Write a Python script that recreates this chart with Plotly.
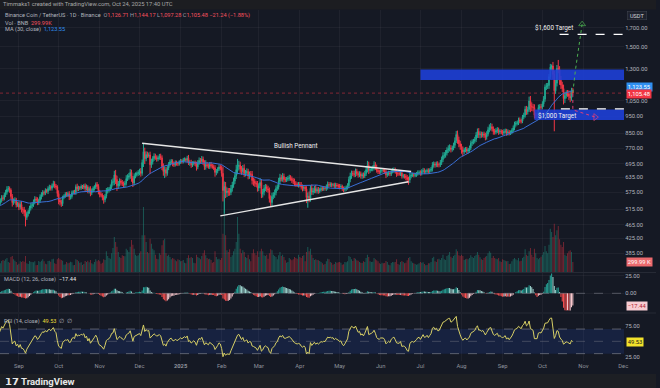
import numpy as np
import pandas as pd
import plotly.graph_objects as go

# ---------------- data ----------------
start_date = "2024-08-10"
first_open = 530

close = [
    # Aug 2024 (10-31)
    525, 510, 524, 530, 520, 523, 530, 538, 545, 555, 553, 566, 576, 587, 590, 584, 560, 538, 545, 547, 530, 535,
    # Sep 2024
    522, 531, 514, 513, 504, 488, 500, 507, 519, 527, 531, 541, 551, 549, 539, 545, 559, 566, 575, 573,
    583, 579, 590, 595, 591, 601, 609, 600, 596, 571,
    # Oct 2024
    546, 540, 534, 557, 561, 568, 567, 570, 559, 560, 574, 578, 575, 597, 589, 593, 592, 598, 596, 601,
    590, 596, 581, 590, 573, 582, 591, 596, 606, 598, 577,
    # Nov 2024
    567, 565, 556, 548, 561, 580, 585, 588, 597, 614, 617, 645, 626, 601, 608, 620, 614, 609, 605, 611,
    630, 636, 641, 656, 631, 612, 640, 646, 651, 656,
    # Dec 2024
    660, 652, 700, 752, 718, 738, 732, 736, 690, 703, 718, 730, 724, 716, 722, 729, 722, 682, 660, 668,
    652, 675, 690, 703, 706, 692, 690, 700, 695, 694, 702,
    # Jan 2025
    708, 704, 712, 715, 711, 720, 697, 701, 690, 696, 700, 694, 680, 699, 710, 706, 716, 701, 682, 691,
    686, 681, 691, 685, 681, 676, 656, 661, 670, 680, 675,
    # Feb 2025
    652, 582, 598, 574, 580, 576, 575, 590, 604, 620, 642, 668, 682, 688, 670, 660, 674, 651, 655, 660,
    641, 650, 648, 622, 619, 611, 608, 592,
    # Mar 2025
    601, 614, 570, 576, 590, 596, 589, 584, 552, 538, 560, 566, 574, 590, 596, 619, 634, 628, 639, 626,
    624, 628, 631, 634, 630, 622, 619, 609, 606, 604, 606,
    # Apr 2025
    604, 596, 591, 595, 589, 556, 561, 553, 591, 576, 581, 590, 580, 586, 580, 585, 590, 588, 591, 590,
    596, 606, 604, 606, 604, 605, 600, 604, 601, 600,
    # May 2025
    596, 598, 590, 586, 590, 594, 601, 626, 641, 652, 650, 648, 660, 651, 646, 650, 641, 646, 641, 651,
    668, 688, 664, 670, 671, 676, 688, 679, 665, 660, 659,
    # Jun 2025
    664, 665, 664, 659, 646, 650, 654, 650, 660, 664, 667, 660, 651, 650, 650, 654, 640, 641, 640, 635,
    626, 624, 640, 645, 646, 644, 646, 650, 655, 656,
    # Jul 2025
    652, 660, 664, 659, 660, 664, 660, 665, 670, 688, 693, 689, 694, 690, 690, 700, 714, 733, 736, 745,
    760, 768, 771, 764, 770, 784, 808, 842, 812, 792, 778,
    # Aug 2025
    762, 751, 760, 764, 755, 761, 771, 795, 800, 806, 815, 839, 858, 841, 844, 838, 845, 838, 828, 844,
    868, 880, 886, 874, 859, 855, 864, 868, 856, 860, 856,
    # Sep 2025
    851, 858, 862, 850, 856, 849, 855, 865, 879, 900, 906, 910, 926, 921, 919, 944, 956, 994, 978, 993,
    1050, 1015, 1010, 1005, 955, 955, 955, 1005, 1010, 1008,
    # Oct 2025 (1-24)
    1030, 1062, 1150, 1156, 1162, 1232, 1312, 1322, 1250, 1122, 1180, 1300, 1290, 1202, 1166, 1139, 1066,
    1087, 1106, 1101, 1082, 1071, 1126.71, 1105.48,
]

wick_high = [
    8, 10, 7, 9, 8, 6, 7, 9, 8, 10, 9, 8, 9, 12, 10, 8, 7, 9, 8, 10, 8, 6,
    6, 10, 12, 8, 10, 9, 7, 6, 8, 9, 7, 8, 10, 8, 8, 7, 9, 10, 9, 7, 8, 6, 9, 10, 8, 9, 12, 10, 8, 7,
    12, 9, 8, 6, 7, 8, 9, 8, 10, 6, 8, 6, 7, 9, 12, 8, 7, 8, 6, 7, 9, 10, 7, 8, 9, 8, 8, 7, 8, 10, 9,
    8, 9, 7, 9, 8, 12, 10, 8, 9, 12, 14, 18, 22, 16, 12, 11, 9, 10, 9, 10, 14, 12, 13, 15, 12, 10, 12, 10, 9, 10,
    12, 15, 14, 40, 20, 16, 14, 12, 16, 15, 12, 14, 12, 10, 11, 12, 13, 12, 14, 15, 12, 10, 12, 11, 10, 9, 12, 10, 9, 8, 9,
    9, 8, 10, 9, 8, 12, 16, 10, 12, 10, 8, 9, 10, 12, 14, 11, 15, 12, 10, 20, 12, 10, 11, 12, 9, 10, 12, 10, 9, 11, 10,
    12, 30, 20, 18, 14, 12, 16, 14, 12, 14, 16, 22, 35, 20, 16, 14, 15, 18, 12, 14, 12, 10, 12, 14, 12, 11, 10, 12,
    10, 18, 14, 12, 14, 12, 10, 12, 10, 12, 14, 10, 12, 12, 10, 14, 16, 12, 14, 12, 10, 9, 10, 12, 10, 9, 10, 11, 10, 9, 10,
    10, 12, 10, 9, 8, 10, 14, 18, 12, 15, 12, 10, 14, 9, 10, 8, 9, 8, 7, 9, 10, 12, 10, 9, 8, 7, 8, 9, 8, 8,
    8, 9, 7, 8, 9, 8, 10, 12, 14, 12, 11, 14, 13, 12, 10, 11, 10, 9, 10, 12, 14, 20, 16, 12, 10, 11, 18, 14, 12, 11, 9,
    10, 9, 8, 9, 10, 8, 9, 8, 10, 12, 11, 10, 9, 8, 9, 10, 12, 9, 8, 9, 10, 12, 14, 10, 9, 8, 9, 8, 10, 9,
    9, 10, 12, 10, 8, 9, 10, 9, 10, 14, 12, 10, 11, 12, 10, 12, 14, 16, 14, 15, 14, 16, 18, 14, 12, 14, 18, 20, 22, 18, 16,
    14, 16, 12, 11, 12, 10, 12, 14, 15, 12, 14, 16, 18, 20, 16, 14, 12, 13, 14, 16, 18, 20, 22, 18, 14, 15, 14, 16, 13, 12, 11,
    12, 14, 13, 12, 15, 11, 10, 12, 14, 16, 14, 12, 15, 16, 13, 14, 16, 20, 22, 18, 30, 35, 25, 20, 22, 18, 16, 20, 18, 20,
    18, 22, 20, 25, 20, 22, 28, 13, 35, 30, 25, 30, 75, 30, 35, 25, 30, 25, 20, 22, 25, 30, 18, 17.46,
]

wick_low = [
    10, 12, 7, 8, 10, 6, 7, 6, 8, 7, 9, 7, 8, 9, 9, 10, 9, 14, 8, 10, 9, 7,
    10, 8, 10, 14, 12, 28, 8, 9, 7, 8, 10, 8, 9, 8, 10, 9, 8, 10, 7, 9, 8, 7, 10, 8, 9, 9, 7, 9, 10, 12,
    14, 12, 11, 8, 7, 6, 8, 9, 12, 10, 8, 7, 8, 9, 10, 9, 8, 7, 8, 9, 10, 8, 9, 10, 12, 8, 7, 9, 8, 10, 9,
    10, 8, 10, 14, 9, 8, 9, 10, 8, 9, 12, 14, 18, 20, 12, 10, 12, 9, 10, 10, 9, 10, 11, 12, 14, 16, 10, 9, 8, 10,
    12, 14, 10, 20, 25, 12, 10, 9, 40, 14, 12, 10, 11, 12, 10, 9, 10, 16, 18, 28, 14, 10, 9, 8, 10, 9, 10, 8, 9, 10, 8,
    8, 9, 8, 7, 9, 10, 8, 12, 14, 10, 9, 10, 16, 10, 9, 10, 11, 12, 15, 14, 10, 9, 10, 11, 9, 10, 18, 12, 9, 8, 10,
    14, 40, 82, 20, 16, 14, 12, 10, 12, 11, 12, 14, 20, 18, 16, 14, 12, 14, 12, 10, 14, 12, 10, 16, 18, 14, 12, 14,
    12, 10, 16, 14, 12, 10, 12, 10, 14, 13, 12, 10, 11, 10, 9, 10, 12, 10, 11, 12, 9, 8, 9, 10, 9, 10, 12, 10, 9, 8, 10,
    9, 10, 12, 10, 9, 20, 36, 14, 12, 10, 10, 9, 8, 9, 10, 8, 7, 8, 7, 8, 9, 10, 9, 8, 9, 7, 8, 9, 8, 9,
    9, 8, 9, 10, 8, 9, 8, 10, 11, 12, 10, 12, 11, 10, 12, 10, 11, 12, 10, 9, 10, 12, 15, 10, 9, 10, 11, 12, 10, 11, 10,
    9, 10, 8, 9, 14, 9, 8, 10, 9, 8, 10, 9, 14, 9, 8, 9, 10, 9, 10, 12, 14, 19, 12, 9, 8, 9, 8, 9, 8, 9,
    10, 9, 8, 10, 9, 8, 10, 9, 8, 10, 11, 12, 10, 11, 12, 10, 11, 12, 14, 13, 12, 14, 15, 16, 12, 11, 14, 12, 20, 18, 16,
    20, 22, 12, 11, 13, 12, 10, 12, 14, 11, 12, 14, 16, 18, 20, 14, 12, 15, 18, 14, 12, 14, 16, 15, 18, 14, 12, 14, 16, 12, 13,
    14, 12, 11, 15, 13, 12, 10, 11, 12, 14, 13, 12, 14, 15, 14, 12, 13, 15, 20, 18, 16, 40, 28, 25, 20, 18, 20, 15, 16, 18,
    15, 20, 18, 22, 20, 25, 20, 30, 40, 262, 22, 25, 30, 35, 30, 25, 40, 30, 20, 22, 25, 30, 20, 8.2,
]

volume_k = [
    250, 220, 380, 330, 300, 340, 290, 220, 260, 330, 360, 340, 380, 420, 300, 280, 450, 480, 380, 340, 300, 220,
    250, 320, 300, 330, 310, 480, 260, 240, 330, 310, 300, 290, 320, 200, 210, 330, 300, 340, 380, 320,
    250, 230, 330, 340, 310, 380, 400, 260, 240, 380,
    420, 380, 360, 340, 220, 230, 300, 260, 280, 310, 290, 200, 210, 380, 360, 320, 280, 290, 210, 240,
    330, 300, 340, 290, 360, 260, 230, 300, 380, 320, 360,
    320, 250, 280, 380, 360, 620, 480, 420, 400, 560, 720, 1050, 900, 760, 600, 450, 420, 500, 480, 470,
    700, 650, 600, 760, 960, 820, 700, 520, 480, 500,
    560, 620, 1100, 1950, 1100, 900, 600, 560, 1000, 850, 700, 650, 520, 400, 380, 560, 520, 800, 950, 1000,
    560, 480, 520, 450, 380, 420, 400, 350, 320, 380, 360,
    320, 330, 360, 280, 260, 420, 500, 420, 450, 420, 280, 260, 520, 450, 420, 380, 480, 560, 650, 500,
    420, 380, 400, 360, 280, 300, 620, 450, 380, 400, 360,
    420, 1150, 2300, 1100, 650, 600, 680, 450, 500, 620, 700, 900, 1650, 1150, 700, 560, 650, 600, 450, 420,
    520, 380, 320, 560, 680, 560, 500, 620,
    450, 620, 700, 620, 500, 480, 520, 400, 560, 680, 650, 520, 480, 450, 380, 500, 600, 480, 520, 450,
    350, 280, 300, 420, 380, 350, 380, 450, 420, 400, 520,
    450, 420, 480, 500, 320, 600, 750, 620, 700, 520, 420, 360, 380, 360, 350, 330, 300, 260, 220, 240,
    320, 400, 380, 300, 280, 220, 240, 300, 280, 290,
    300, 280, 220, 230, 300, 290, 320, 480, 450, 380, 330, 420, 400, 350, 340, 300, 280, 270, 320, 300,
    420, 520, 450, 320, 300, 310, 420, 380, 350, 320, 260,
    240, 280, 260, 270, 330, 300, 220, 200, 270, 300, 290, 300, 380, 240, 220, 300, 330, 300, 260, 280,
    350, 420, 450, 320, 280, 260, 240, 220, 230, 260,
    300, 280, 290, 240, 200, 210, 260, 260, 300, 420, 460, 320, 300, 380, 400, 360, 420, 520, 380, 360,
    480, 520, 600, 460, 420, 480, 520, 680, 620, 500, 480,
    520, 480, 360, 380, 400, 380, 420, 500, 450, 420, 480, 520, 600, 520, 440, 380, 360, 420, 460, 480,
    560, 620, 580, 420, 480, 420, 400, 380, 420, 320, 300,
    380, 360, 340, 320, 330, 240, 250, 320, 380, 420, 380, 350, 420, 320, 340, 420, 460, 680, 520, 480,
    620, 720, 520, 450, 700, 560, 420, 380, 420, 460,
    520, 600, 780, 620, 560, 820, 1300, 1200, 1050, 1450, 1100, 1250, 1380, 980, 820, 750, 900, 520, 480, 560,
    620, 650, 600, 299.99,
]

month_ticks = ["2024-09-01", "2024-10-01", "2024-11-01", "2024-12-01", "2025-01-01", "2025-02-01",
               "2025-03-01", "2025-04-01", "2025-05-01", "2025-06-01", "2025-07-01", "2025-08-01",
               "2025-09-01", "2025-10-01", "2025-11-01", "2025-12-01"]
month_labels = ["Sep", "Oct", "Nov", "Dec", "<b>2025</b>", "Feb", "Mar", "Apr", "May", "Jun", "Jul",
                "Aug", "Sep", "Oct", "Nov", "Dec"]
price_ticks = [385, 425, 465, 515, 575, 635, 695, 770, 850, 950, 1050, 1300, 1500, 1700]
macd_ticks = [0, 25]
rsi_ticks = [25, 75]

# drawings (data coordinates)
pennant_upper_x = ["2024-12-03", "2025-06-24"]
pennant_upper_y = [795, 660]
pennant_lower_x = ["2025-01-31", "2025-06-22"]
pennant_lower_y = [493, 617]
resistance_x0, resistance_lo, resistance_hi = "2025-07-01", 1205, 1292
support_x0, support_lo, support_hi = "2025-09-25", 926, 992
target_hi_x0, target_hi_price = "2025-10-14", 1627
target_lo_x0, target_lo_price = "2025-10-15", 996
bull_path_x = ["2025-10-24", "2025-10-26", "2025-10-31"]
bull_path_y = [1110, 1290, 1740]
bear_path_x = ["2025-10-24", "2025-10-24", "2025-11-10"]
bear_path_y = [1100, 990, 944]

x_range = ["2024-08-17 18:00", "2025-12-01 18:00"]

# ---------------- build series ----------------
n = min(len(close), len(wick_high), len(wick_low), len(volume_k))
dates = pd.date_range(start_date, periods=n, freq="D")
c = np.array(close[:n], dtype=float)
o = np.concatenate([[first_open], c[:-1]])
h = np.maximum(o, c) + np.array(wick_high[:n], dtype=float)
l = np.minimum(o, c) - np.array(wick_low[:n], dtype=float)
v = np.array(volume_k[:n], dtype=float)

s = pd.Series(c)
ma30 = s.rolling(30, min_periods=1).mean()
ema12 = s.ewm(span=12, adjust=False).mean()
ema26 = s.ewm(span=26, adjust=False).mean()
macd = ema12 - ema26
signal = macd.ewm(span=9, adjust=False).mean()
hist = (macd - signal).values
delta = s.diff().fillna(0)
gain = delta.clip(lower=0).ewm(alpha=1 / 14, adjust=False).mean()
loss = (-delta.clip(upper=0)).ewm(alpha=1 / 14, adjust=False).mean()
rsi = 100 - 100 / (1 + gain / loss.replace(0, np.nan))
rsi = rsi.fillna(50)

UP = "#22ab94"
DN = "#f23645"
BG = "#151924"
TXT = "#b2b5be"
FONT = "Roboto, Arial, sans-serif"

vol_colors = ["rgba(34,171,148,0.42)" if cc >= oo else "rgba(242,54,69,0.42)" for cc, oo in zip(c, o)]
hist_colors = []
for i, hv in enumerate(hist):
    prev = hist[i - 1] if i > 0 else hv
    if hv >= 0:
        hist_colors.append("#26a69a" if hv >= prev else "#9fd8d2")
    else:
        hist_colors.append("#ff5252" if hv <= prev else "#ffcdd2")

fig = go.Figure()

# volume (base axis y)
fig.add_trace(go.Bar(x=dates, y=v, marker_color=vol_colors, marker_line_width=0,
                     xaxis="x", yaxis="y", hoverinfo="skip"))


def zone(x0, lo, hi, col):
    return go.Scatter(x=[x0, x_range[1], x_range[1], x0, x0], y=[lo, lo, hi, hi, lo],
                      fill="toself", fillcolor=col, line=dict(width=0), mode="lines",
                      xaxis="x", yaxis="y2", hoverinfo="skip")


fig.add_trace(zone(resistance_x0, resistance_lo, resistance_hi, "rgba(30,64,220,0.88)"))
fig.add_trace(zone(support_x0, support_lo, support_hi, "rgba(30,64,220,0.88)"))

# last price line
fig.add_trace(go.Scatter(x=x_range, y=[c[-1], c[-1]], mode="lines",
                         line=dict(color="rgba(242,54,69,0.5)", width=1, dash="dot"),
                         xaxis="x", yaxis="y2", hoverinfo="skip"))

# candles
fig.add_trace(go.Candlestick(x=dates, open=o, high=h, low=l, close=c,
                             increasing=dict(line=dict(color=UP, width=1), fillcolor=UP),
                             decreasing=dict(line=dict(color=DN, width=1), fillcolor=DN),
                             whiskerwidth=0, xaxis="x", yaxis="y2", hoverinfo="skip"))

# MA 30
fig.add_trace(go.Scatter(x=dates, y=ma30, mode="lines", line=dict(color="#3a6fd6", width=1),
                         xaxis="x", yaxis="y2", hoverinfo="skip"))

# pennant
for px_, py_ in [(pennant_upper_x, pennant_upper_y), (pennant_lower_x, pennant_lower_y)]:
    fig.add_trace(go.Scatter(x=px_, y=py_, mode="lines", line=dict(color="#e6e6e6", width=1.4),
                             xaxis="x", yaxis="y2", hoverinfo="skip"))

# target dashed lines
for x0, pr in [(target_hi_x0, target_hi_price), (target_lo_x0, target_lo_price)]:
    fig.add_trace(go.Scatter(x=[x0, x_range[1]], y=[pr, pr], mode="lines",
                             line=dict(color="#ffffff", width=1.3, dash="dash"),
                             xaxis="x", yaxis="y2", hoverinfo="skip"))

# projection paths
fig.add_trace(go.Scatter(x=bull_path_x, y=bull_path_y, mode="lines+markers",
                         line=dict(color="#4caf50", width=1, dash="dot"),
                         marker=dict(symbol=["circle", "circle", "triangle-up-open"], size=[0, 0, 6],
                                     color="#4caf50", line=dict(color="#4caf50", width=1)),
                         xaxis="x", yaxis="y2", hoverinfo="skip"))
fig.add_trace(go.Scatter(x=bear_path_x, y=bear_path_y, mode="lines+markers",
                         line=dict(color="#e0407a", width=1, dash="dot"),
                         marker=dict(symbol=["circle", "circle", "triangle-right-open"], size=[0, 0, 6],
                                     color="#e0407a", line=dict(color="#e0407a", width=1)),
                         xaxis="x", yaxis="y2", hoverinfo="skip"))

# MACD histogram
fig.add_trace(go.Bar(x=dates, y=hist, marker_color=hist_colors, marker_line_width=0,
                     xaxis="x", yaxis="y3", hoverinfo="skip"))
fig.add_trace(go.Scatter(x=x_range, y=[0, 0], mode="lines",
                         line=dict(color="rgba(120,123,134,0.6)", width=1, dash="dash"),
                         xaxis="x", yaxis="y3", hoverinfo="skip"))

# RSI band + lines
fig.add_trace(go.Scatter(x=[x_range[0], x_range[1], x_range[1], x_range[0], x_range[0]],
                         y=[30, 30, 70, 70, 30], fill="toself", fillcolor="rgba(41,98,255,0.13)",
                         line=dict(width=0), mode="lines", xaxis="x", yaxis="y4", hoverinfo="skip"))
for lvl, col in [(70, "rgba(120,123,134,0.7)"), (50, "rgba(120,123,134,0.45)"), (30, "rgba(120,123,134,0.7)")]:
    fig.add_trace(go.Scatter(x=x_range, y=[lvl, lvl], mode="lines",
                             line=dict(color=col, width=1, dash="dash"),
                             xaxis="x", yaxis="y4", hoverinfo="skip"))
fig.add_trace(go.Scatter(x=dates, y=rsi, mode="lines", line=dict(color="#d8d066", width=1),
                         xaxis="x", yaxis="y4", hoverinfo="skip"))

# ---------------- layout ----------------
W, H = 660, 388
PLOT_R = 628 / W


def py(pix):
    return 1 - pix / H


def pxx(pix):
    return pix / W


axis_font = dict(family=FONT, size=5.8, color=TXT)
grid = "rgba(255,255,255,0.045)"

fig.update_layout(
    width=W, height=H, margin=dict(l=0, r=0, t=0, b=0),
    paper_bgcolor=BG, plot_bgcolor=BG, showlegend=False, barmode="overlay", bargap=0.25,
    font=dict(family=FONT, color=TXT),
    xaxis=dict(domain=[0, PLOT_R], anchor="y4", range=x_range, type="date",
               tickvals=month_ticks, ticktext=month_labels, tickfont=dict(family=FONT, size=5.8, color="#8f939c"),
               showgrid=True, gridcolor=grid, zeroline=False, showline=False, ticks="",
               rangeslider=dict(visible=False), fixedrange=True),
    yaxis=dict(domain=[py(272), py(10)], range=[0, 7860], visible=False, fixedrange=True),
    yaxis2=dict(domain=[py(272), py(10)], overlaying="y", anchor="x", side="right", type="log",
                range=[2.5324, 3.281], tickvals=price_ticks, tickformat=",.2f", tickfont=axis_font,
                showgrid=True, gridcolor=grid, zeroline=False, showline=False, ticks=""),
    yaxis3=dict(domain=[py(312), py(273)], anchor="x", side="right", range=[-27.0, 29.3],
                tickvals=macd_ticks, tickformat=".2f", tickfont=axis_font, showgrid=True,
                gridcolor=grid, zeroline=False, showline=False, ticks=""),
    yaxis4=dict(domain=[py(361), py(314)], anchor="x", side="right", range=[18.0, 94.5],
                tickvals=rsi_ticks, tickformat=".2f", tickfont=axis_font, showgrid=False,
                zeroline=False, showline=False, ticks=""),
)

shapes = [
    dict(type="rect", xref="paper", yref="paper", x0=0, x1=1, y0=py(9.5), y1=1,
         fillcolor="#1c1d21", line_width=0, layer="below"),
    dict(type="rect", xref="paper", yref="paper", x0=0, x1=1, y0=0, y1=py(374),
         fillcolor="#1d1f24", line_width=0, layer="above"),
    dict(type="line", xref="paper", yref="paper", x0=0, x1=1, y0=py(272.5), y1=py(272.5),
         line=dict(color="#262a35", width=1)),
    dict(type="line", xref="paper", yref="paper", x0=0, x1=1, y0=py(313), y1=py(313),
         line=dict(color="#262a35", width=1)),
]
fig.update_layout(shapes=shapes)

RED = "#f7525f"
GRAYT = "#9a9ea8"
ann = []


def txt(x, y, text, size=6, color=TXT, xanchor="left", **kw):
    ann.append(dict(xref="paper", yref="paper", x=pxx(x), y=py(y), text=text, showarrow=False,
                    xanchor=xanchor, yanchor="middle", font=dict(family=FONT, size=size, color=color), **kw))


txt(1, 4.5, "Timmaks1 created with TradingView.com, Oct 24, 2025 17:40 UTC", size=5.8, color="#a8a8a8")
txt(3, 15.5,
    "Binance Coin / TetherUS · 1D · Binance  "
    f"<span style='color:{GRAYT}'>O</span><span style='color:{RED}'>1,126.71</span> "
    f"<span style='color:{GRAYT}'>H</span><span style='color:{RED}'>1,144.17</span> "
    f"<span style='color:{GRAYT}'>L</span><span style='color:{RED}'>1,097.28</span> "
    f"<span style='color:{GRAYT}'>C</span><span style='color:{RED}'>1,105.48</span> "
    f"<span style='color:{RED}'>−21.24 (−1.88%)</span>", size=5.6)
txt(3, 22.5, f"Vol · BNB  <span style='color:{RED}'>299.99K</span>", size=5.6)
txt(3, 29.5, "MA (30, close)  <span style='color:#2f8ff0'>1,123.55</span>", size=5.6)
txt(2, 279, "MACD (12, 26, close)  <span style='color:#e8e8e8'>−17.44</span>", size=5.6)
txt(2, 321, "RSI (14, close)  <span style='color:#e8dc3a'>49.53</span>  ∅  ∅", size=5.6)

# right axis value boxes
txt(631, 15.5, " USDT ", size=5.6, color="#d1d4dc", bgcolor="#1e222d", bordercolor="#434651",
    borderwidth=0.5, borderpad=1)
txt(629.5, 86.5, "1,123.55", size=5.8, color="#ffffff", bgcolor="#2f8ff0", borderpad=0.8)
txt(629.5, 94.0, "1,105.48", size=5.8, color="#ffffff", bgcolor="#f23645", borderpad=0.8)
txt(629.5, 262.0, "299.99 K", size=5.8, color="#ffffff", bgcolor="#ec6a6e", borderpad=0.8)
txt(629.5, 305.5, "−17.44", size=5.8, color="#b4232f", bgcolor="#f8ccd2", borderpad=0.8)
txt(629.5, 341.5, "49.53", size=5.8, color="#1a1a1a", bgcolor="#f3e22b", borderpad=0.8)

# footer logo
txt(3, 381, "<b>𝟭𝟳 TradingView</b>", size=9.5, color="#e8e8e8")

# chart text labels (data coordinates)
for xd, yd, t in [("2025-03-29", 780, "Bullish Pennant"),
                  ("2025-10-10", 1693, "$1,600 Target"),
                  ("2025-10-12", 950, "$1,000 Target")]:
    ann.append(dict(xref="x", yref="y2", x=xd, y=float(np.log10(yd)), text=t, showarrow=False,
                    font=dict(family=FONT, size=6.3, color="#f0f0f0")))

fig.update_layout(annotations=ann)

fig.write_html("out.html", config={"displayModeBar": False, "staticPlot": True},
               post_script="document.body.style.margin='0';document.body.style.overflow='hidden';")
